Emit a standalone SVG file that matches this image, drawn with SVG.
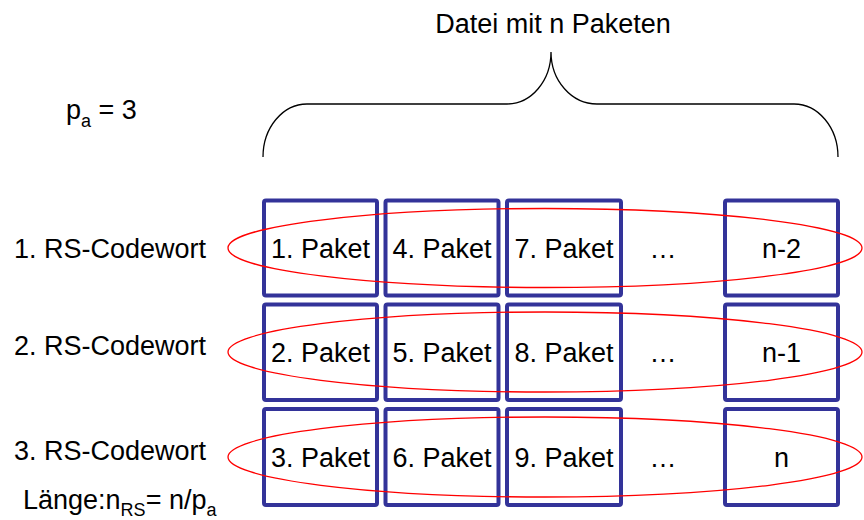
<svg xmlns="http://www.w3.org/2000/svg" width="864" height="520" viewBox="0 0 864 520">
<style>
text{font-family:"Liberation Sans",Arial,sans-serif;font-size:27px;fill:#000}
.c{text-anchor:middle}
.box{fill:#fff;stroke:#333399;stroke-width:4}
.ell{fill:none;stroke:#ff0000;stroke-width:1.3}
.brace{fill:none;stroke:#000;stroke-width:1.3}
.sub{font-size:18px}
</style>
<rect width="864" height="520" fill="#fff"/>
<g id="title"><text class="c" x="553" y="33">Datei mit n Paketen</text></g>
<g id="pa"><text x="66" y="119">p<tspan class="sub" dy="8">a</tspan><tspan dy="-8"> = 3</tspan></text></g>
<path id="brace" class="brace" d="M263,157 A44,53 0 0 1 307,104 L507,104 A44,52 0 0 0 551,52 A46,52 0 0 0 597,104 L794,104 A44,53 0 0 1 838,157"/>
<g id="boxes">
<g id="p1"><rect class="box" x="264" y="200.5" width="113" height="95" rx="2"/></g>
<g id="p4"><rect class="box" x="385.5" y="200.5" width="113" height="95" rx="2"/></g>
<g id="p7"><rect class="box" x="507" y="200.5" width="114" height="95" rx="2"/></g>
<g id="pn2"><rect class="box" x="725" y="200.5" width="113" height="95" rx="2"/></g>
<g id="p2"><rect class="box" x="264" y="304.5" width="113" height="95.5" rx="2"/></g>
<g id="p5"><rect class="box" x="385.5" y="304.5" width="113" height="95.5" rx="2"/></g>
<g id="p8"><rect class="box" x="507" y="304.5" width="114" height="95.5" rx="2"/></g>
<g id="pn1"><rect class="box" x="725" y="304.5" width="113" height="95.5" rx="2"/></g>
<g id="p3"><rect class="box" x="264" y="409" width="113" height="96" rx="2"/></g>
<g id="p6"><rect class="box" x="385.5" y="409" width="113" height="96" rx="2"/></g>
<g id="p9"><rect class="box" x="507" y="409" width="114" height="96" rx="2"/></g>
<g id="pn"><rect class="box" x="725" y="409" width="113" height="96" rx="2"/></g>
</g>
<g id="connectors">
<ellipse class="ell" cx="545" cy="248" rx="317" ry="39.5"/>
<ellipse class="ell" cx="545" cy="352" rx="317" ry="40"/>
<ellipse class="ell" cx="545" cy="457" rx="317" ry="40"/>
</g>
<g id="labels">
<text class="c" x="320.5" y="258">1. Paket</text>
<text class="c" x="442" y="258">4. Paket</text>
<text class="c" x="564" y="258">7. Paket</text>
<text class="c" x="663" y="258">…</text>
<text class="c" x="781.5" y="258">n-2</text>
<text class="c" x="320.5" y="362">2. Paket</text>
<text class="c" x="442" y="362">5. Paket</text>
<text class="c" x="564" y="362">8. Paket</text>
<text class="c" x="663" y="362">…</text>
<text class="c" x="781.5" y="362">n-1</text>
<text class="c" x="320.5" y="467">3. Paket</text>
<text class="c" x="442" y="467">6. Paket</text>
<text class="c" x="564" y="467">9. Paket</text>
<text class="c" x="663" y="467">…</text>
<text class="c" x="781.5" y="467">n</text>
</g>
<g id="rs1"><text x="14" y="258">1. RS-Codewort</text></g>
<g id="rs2"><text x="14" y="355">2. RS-Codewort</text></g>
<g id="rs3"><text x="14" y="460">3. RS-Codewort</text></g>
<g id="laenge"><text x="23" y="509" font-size="26">Länge:n<tspan class="sub" dy="7">RS</tspan><tspan dy="-7">= n/p</tspan><tspan class="sub" dy="7">a</tspan></text></g>
</svg>
